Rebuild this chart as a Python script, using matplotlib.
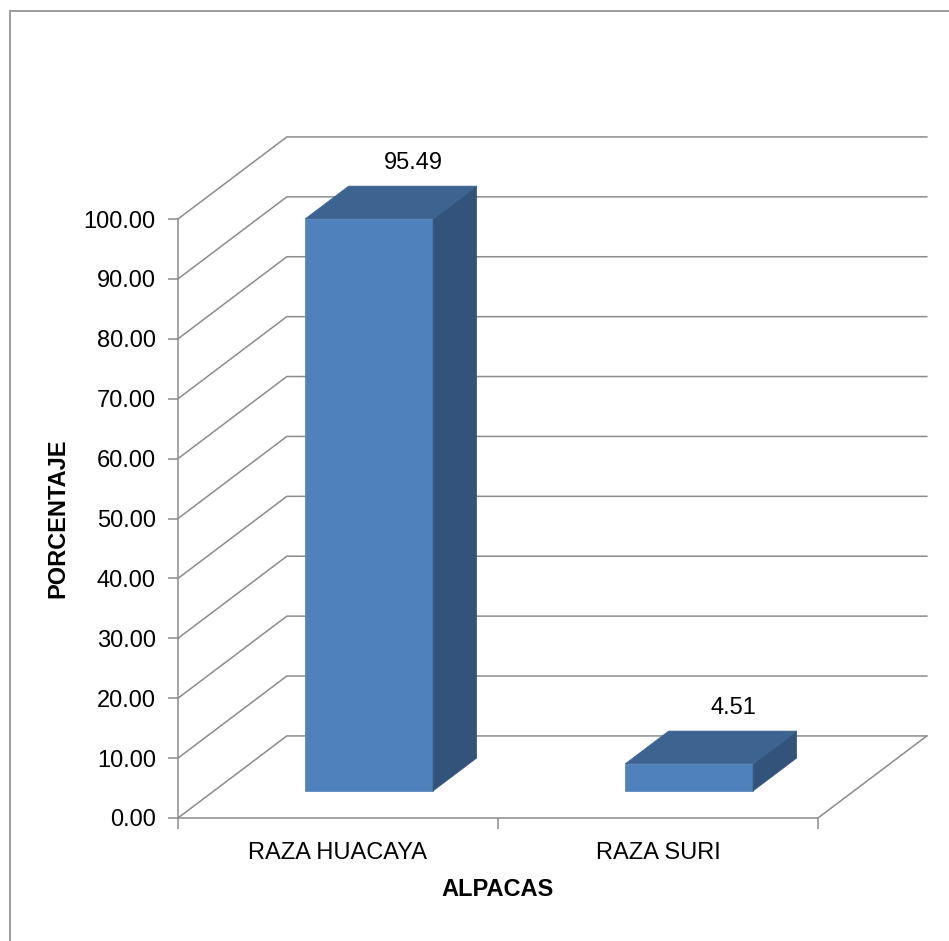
import matplotlib
matplotlib.use("Agg")
import matplotlib.pyplot as plt
from matplotlib.patches import Polygon, Rectangle

categories = ["RAZA HUACAYA", "RAZA SURI"]
values = [95.49, 4.51]
yticks = [0, 10, 20, 30, 40, 50, 60, 70, 80, 90, 100]

plt.rcParams['font.family'] = ['Liberation Sans', 'DejaVu Sans']

fig = plt.figure(figsize=(9.49, 9.41), dpi=100)
W, H = 949, 941
ax = fig.add_axes([178 / W, (H - 818) / H, 640 / W, 599 / H])
ax.set_xlim(0, 2)
ax.set_ylim(0, 100)

# depth of the fake 3d box, in data units
ddx = 0.34
ddy = 13.7
grid_c = "#8c8c8c"

# side wall + back wall grid
for y in yticks:
    ax.plot([0, ddx, 2 + ddx], [y, y + ddy, y + ddy], color=grid_c, lw=1.1, clip_on=False, zorder=1)
ax.plot([2, 2 + ddx], [0, ddy], color=grid_c, lw=1.1, clip_on=False, zorder=1)

# bars
front = 0.33
depth = 0.40
width = 0.40
for i, v in enumerate(values):
    x0 = i + 0.485 - width / 2 + front * ddx
    x1 = x0 + width
    y0 = front * ddy
    y1 = y0 + v
    ox = depth * ddx
    oy = depth * ddy
    ax.add_patch(Polygon([(x0, y0), (x1, y0), (x1, y1), (x0, y1)], closed=True,
                         facecolor="#4f81bd", edgecolor="#4f81bd", lw=0.5, clip_on=False, zorder=3))
    ax.add_patch(Polygon([(x1, y0), (x1 + ox, y0 + oy), (x1 + ox, y1 + oy), (x1, y1)], closed=True,
                         facecolor="#33537b", edgecolor="#33537b", lw=0.5, clip_on=False, zorder=3))
    ax.add_patch(Polygon([(x0, y1), (x1, y1), (x1 + ox, y1 + oy), (x0 + ox, y1 + oy)], closed=True,
                         facecolor="#3d6391", edgecolor="#3d6391", lw=0.5, clip_on=False, zorder=3))
    ax.text(i + 0.5 + 0.69 * ddx, y1 + oy + 2.0, "%.2f" % v, ha="center", va="bottom",
            fontsize=17, color="black", zorder=4)

for s in ["top", "right"]:
    ax.spines[s].set_visible(False)
for s in ["left", "bottom"]:
    ax.spines[s].set_color(grid_c)
    ax.spines[s].set_linewidth(1.1)

ax.set_yticks(yticks)
ax.set_yticklabels(["%.2f" % t for t in yticks])
ax.set_xticks([0, 1, 2])
ax.set_xticklabels([])
ax.set_xticks([0.5, 1.5], minor=True)
ax.set_xticklabels(categories, minor=True)
ax.tick_params(axis="y", length=7, width=1.1, color=grid_c, labelsize=17, pad=9)
ax.tick_params(axis="x", which="major", length=8, width=1.1, color=grid_c)
ax.tick_params(axis="x", which="minor", length=0, labelsize=17, pad=17)
ax.patch.set_alpha(0)

ax.set_ylabel("PORCENTAJE", fontsize=17, fontweight="bold", labelpad=10)
ax.set_xlabel("ALPACAS", fontsize=17, fontweight="bold", labelpad=10)

fig.add_artist(Rectangle((10 / W, -0.2), 1.5, 1 - 11 / H + 0.2, transform=fig.transFigure,
                         fill=False, edgecolor="#8c8c8c", lw=1.2))

fig.savefig("out.png", dpi=100)
